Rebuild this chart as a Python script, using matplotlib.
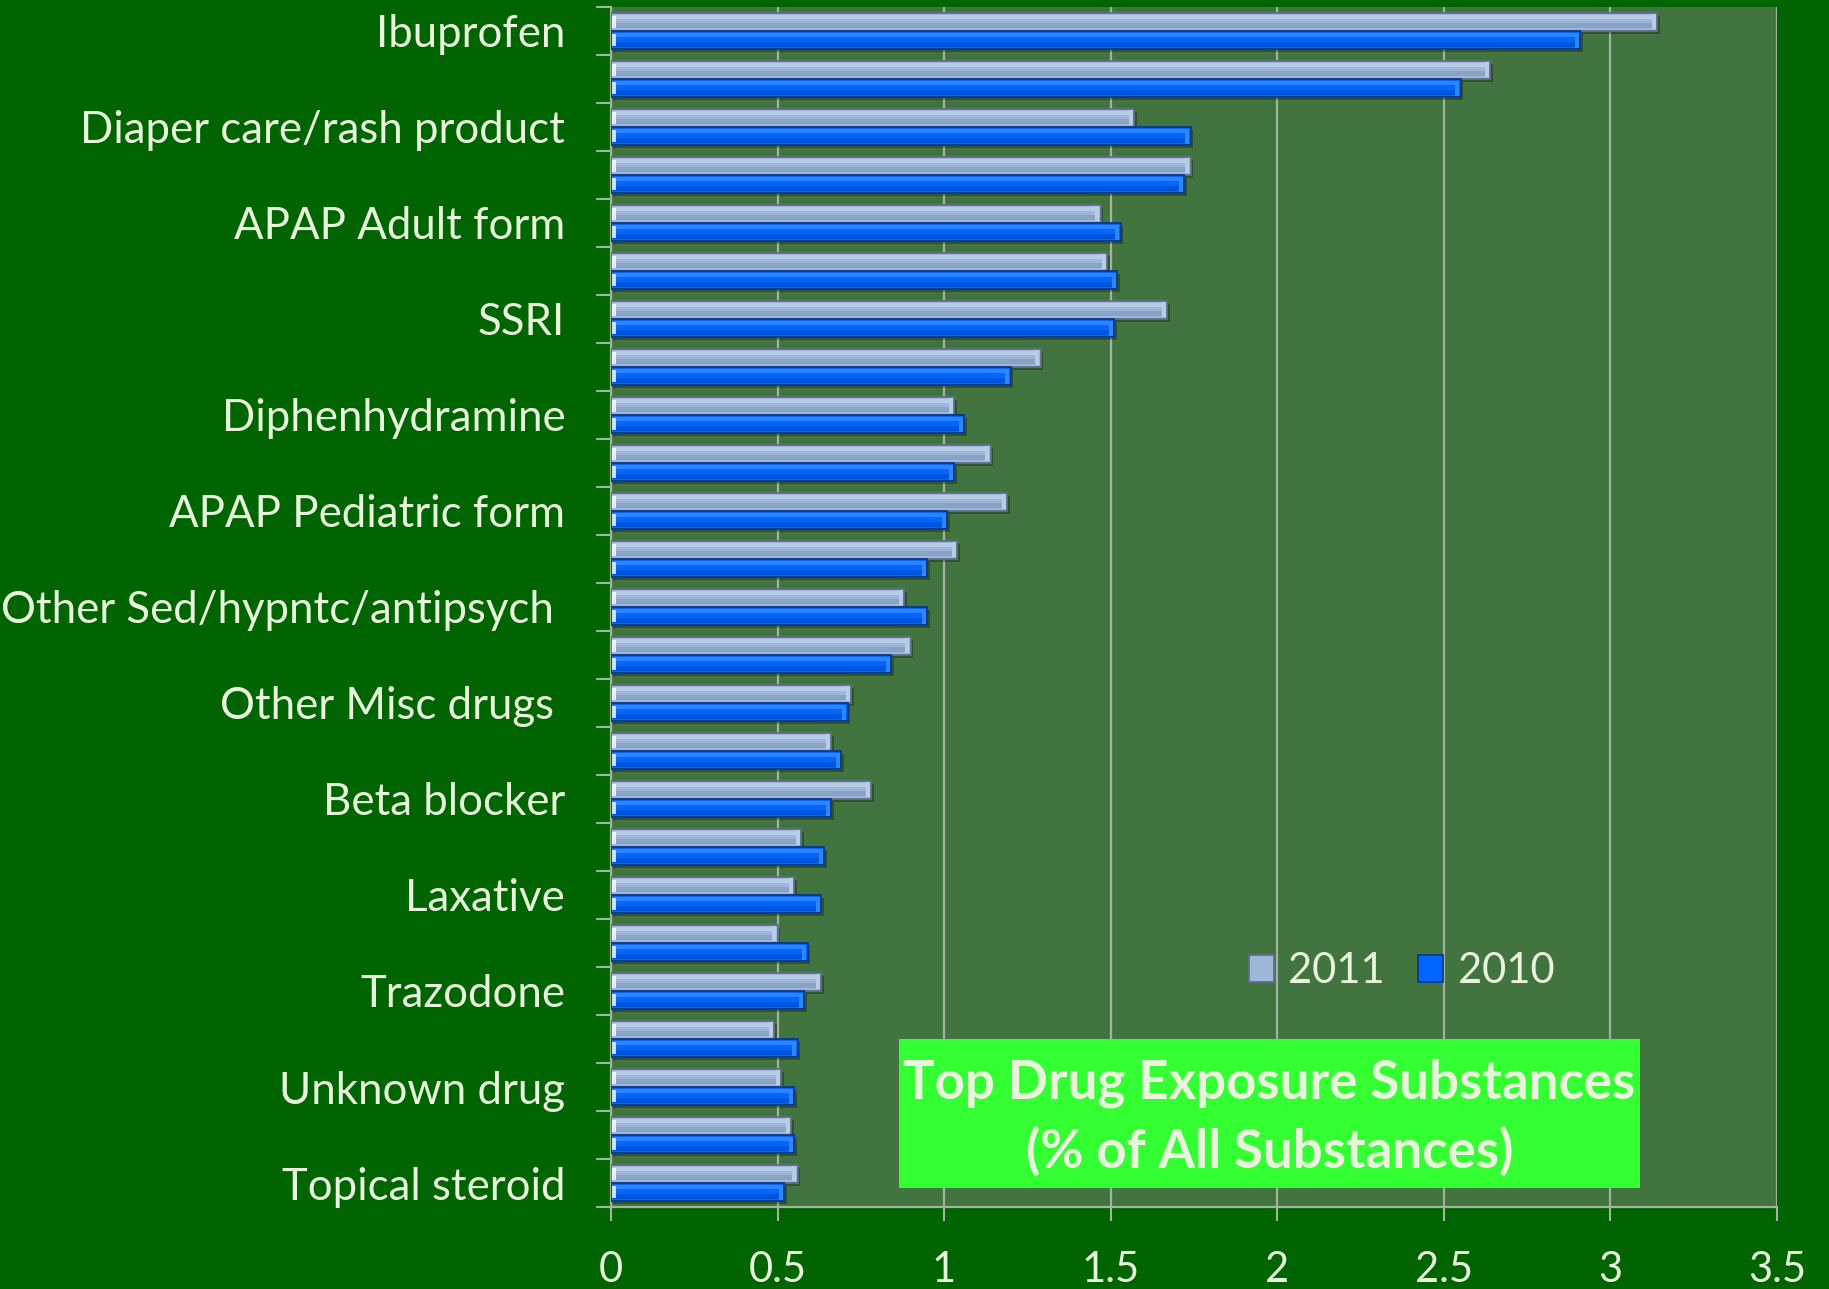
import matplotlib
matplotlib.use("Agg")
import matplotlib.pyplot as plt
import numpy as np
from matplotlib.patches import Rectangle, Patch

# drug categories, top to bottom (only every other one gets a label)
categories = ["Ibuprofen", "", "Diaper care/rash product", "", "APAP Adult form", "",
              "SSRI", "", "Diphenhydramine", "", "APAP Pediatric form", "",
              "Other Sed/hypntc/antipsych ", "", "Other Misc drugs ", "",
              "Beta blocker", "", "Laxative", "", "Trazodone", "",
              "Unknown drug", "", "Topical steroid"]

# % of all substances
pct_2011 = [3.14, 2.64, 1.57, 1.74, 1.47, 1.49, 1.67, 1.29, 1.03, 1.14, 1.19, 1.04, 0.88,
            0.90, 0.72, 0.66, 0.78, 0.57, 0.55, 0.50, 0.63, 0.49, 0.51, 0.54, 0.56]
pct_2010 = [2.91, 2.55, 1.74, 1.72, 1.53, 1.52, 1.51, 1.20, 1.06, 1.03, 1.01, 0.95, 0.95,
            0.84, 0.71, 0.69, 0.66, 0.64, 0.63, 0.59, 0.58, 0.56, 0.55, 0.55, 0.52]

xticks = [0, 0.5, 1, 1.5, 2, 2.5, 3, 3.5]
xtick_labels = ["0", "0.5", "1", "1.5", "2", "2.5", "3", "3.5"]

FONT = "Lato"
TXT = "#e8f5dc"
GRID = "#a3b39e"

plt.rcParams["font.family"] = [FONT, "DejaVu Sans"]

fig = plt.figure(figsize=(18.29, 12.89), dpi=100)
fig.patch.set_facecolor("#006400")
ax = fig.add_axes([611 / 1829, 1 - 1207 / 1289, (1777 - 611) / 1829, 1200 / 1289])
ax.set_facecolor("#41743f")

y = np.arange(len(categories))
h = 0.37


def shaded_bars(pos, vals, base, light, dark, edge):
    vals = np.array(vals)
    # soft drop shadow
    ax.barh(pos + 0.06, vals + 0.008, height=h, color="black", alpha=0.28, lw=0, zorder=2)
    ax.barh(pos, vals, height=h, color=base, edgecolor=edge, lw=1.3, zorder=3)
    # top highlight and lower darker band for the tube look
    ax.barh(pos - h * 0.3, vals - 0.012, left=0.006, height=h * 0.22, color=light, lw=0, zorder=4)
    ax.barh(pos + h * 0.22, vals - 0.012, left=0.006, height=h * 0.28, color=dark, lw=0, zorder=4)
    ax.barh(pos, 0.012, left=vals - 0.016, height=h * 0.85, color=light, lw=0, zorder=5)
    ax.barh(pos, 0.012, left=0.003, height=h * 0.7, color="white", alpha=0.8, lw=0, zorder=5)


shaded_bars(y - 0.19, pct_2011, "#9db7d9", "#b8cce6", "#8ba2c4", "#5f6f86")
shaded_bars(y + 0.19, pct_2010, "#0066ff", "#2f86ff", "#0056dd", "#0a3a8a")

ax.set_xlim(0, 3.5)
ax.set_ylim(len(categories) - 0.5, -0.5)

ax.set_xticks(xticks)
ax.set_xticklabels(xtick_labels)
ax.set_yticks(y)
ax.set_yticklabels(categories)
ax.set_yticks(np.arange(len(categories) + 1) - 0.5, minor=True)

ax.tick_params(axis="x", length=10, width=1.5, color=GRID, labelsize=30,
               labelcolor=TXT, pad=22)
ax.tick_params(axis="y", which="major", length=0, pad=33, labelsize=31.5, labelcolor=TXT)
ax.tick_params(axis="y", which="minor", length=11, width=1.5, color=GRID)

ax.xaxis.grid(True, color=GRID, lw=1.6)
ax.set_axisbelow(True)
for side in ["top", "right"]:
    ax.spines[side].set_visible(False)
for side in ["left", "bottom"]:
    ax.spines[side].set_color(GRID)
    ax.spines[side].set_linewidth(1.6)

# legend
handles = [Patch(facecolor="#9db7d9", edgecolor="#5f6f86", lw=1.3, label="2011"),
           Patch(facecolor="#0066ff", edgecolor="#0a3a8a", lw=1.3, label="2010")]
fig.legend(handles=handles, loc="center left", ncol=2, frameon=False,
           bbox_to_anchor=(1211 / 1829, 1 - 971 / 1289), fontsize=30,
           handlelength=0.6, handleheight=0.6, handletextpad=0.35,
           columnspacing=0.8, labelcolor=TXT)

# title box
fig.patches.append(Rectangle((899 / 1829, 1 - 1188 / 1289), (1640 - 899) / 1829, 149 / 1289,
                             transform=fig.transFigure, facecolor="#33ff33",
                             edgecolor="none", zorder=10))
fig.text(1269.5 / 1829, 1 - 1098 / 1289, "Top Drug Exposure Substances", ha="center",
         va="baseline", fontsize=38, fontweight="bold", color=TXT, zorder=11)
fig.text(1269.5 / 1829, 1 - 1168 / 1289, "(% of All Substances)", ha="center",
         va="baseline", fontsize=38, fontweight="bold", color=TXT, zorder=11)

fig.savefig("out.png", dpi=100, facecolor=fig.get_facecolor())
